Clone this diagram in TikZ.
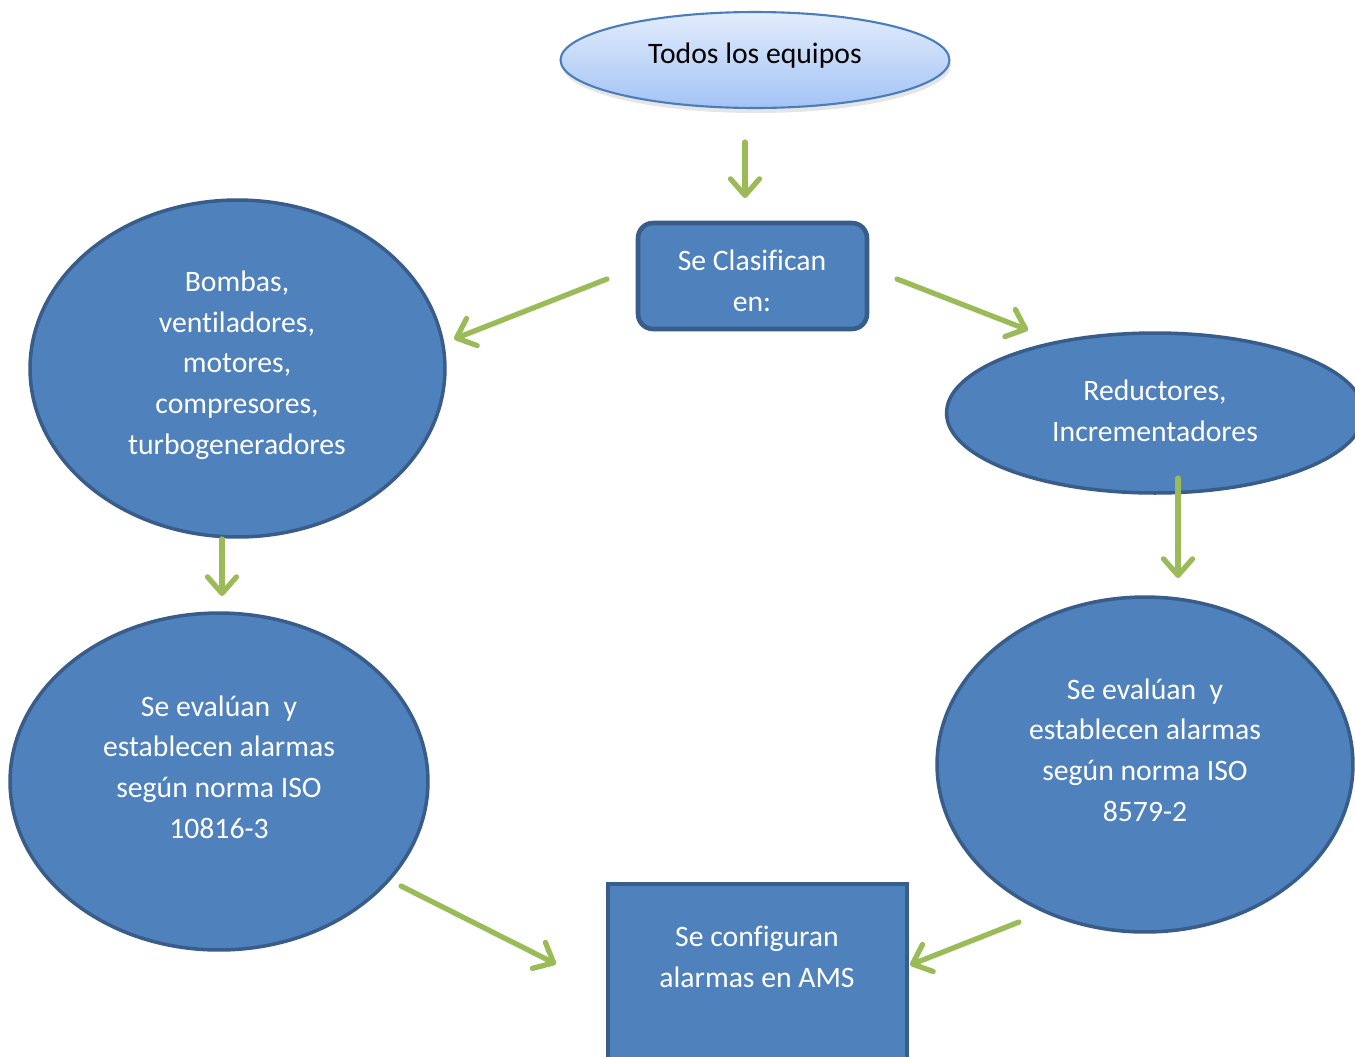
\documentclass[tikz,border=0pt]{standalone}
\usepackage{fontspec}
\setmainfont[Ligatures={NoCommon}]{Carlito}
\usetikzlibrary{shapes.geometric,arrows.meta,shadows}
\definecolor{fillblue}{HTML}{4F81BD}
\definecolor{edgeblue}{HTML}{385D8A}
\definecolor{arrowgreen}{HTML}{9BBB59}
\definecolor{topedge}{HTML}{4A7EBB}
\definecolor{toptop}{HTML}{E2ECFC}
\definecolor{topbot}{HTML}{A3C3F5}
\tikzset{
  blueell/.style={ellipse, fill=fillblue, draw=edgeblue, line width=2pt, inner sep=0pt},
  bluerect/.style={rectangle, fill=fillblue, draw=edgeblue, line width=2.2pt, inner sep=0pt},
  wtxt/.style={text=white, align=center, font=\fontsize{16.9}{23.2}\selectfont, inner sep=0pt},
  btxt/.style={text=black, align=center, font=\fontsize{16.9}{23.2}\selectfont, inner sep=0pt},
  garrow/.style={draw=arrowgreen, line width=3pt, line cap=round,
     -{Straight Barb[length=0.33cm, width=0.58cm, line cap=round, line join=round]}},
}
\begin{document}
\begin{tikzpicture}[x=0.02cm, y=-0.02cm]
\useasboundingbox (0,0) rectangle (1355,1056);
\fill[white] (0,0) rectangle (1355,1056);

% top ellipse
\node[ellipse, draw=topedge, line width=1.2pt, top color=toptop, bottom color=topbot,
  minimum width=7.78cm, minimum height=1.92cm, inner sep=0pt,
  drop shadow={opacity=0.2, shadow xshift=0.03cm, shadow yshift=-0.1cm}] (top) at (755,60) {};
\node[btxt] (toptxt) at (755,56) {Todos los equipos};

% classify box
\node[bluerect, rounded corners=0.3cm, line width=2.6pt, minimum width=4.58cm, minimum height=2.12cm] (clas) at (752.5,276) {};
\node[wtxt] (clastxt) at (752,281) {Se Clasifican\\en:};

% left ellipse
\node[blueell, minimum width=8.3cm, minimum height=6.74cm] (left) at (237.5,368.5) {};
\node[wtxt] (lefttxt) at (237,365) {Bombas,\\ventiladores,\\motores,\\compresores,\\turbogeneradores};

% right ellipse
\node[blueell, minimum width=8.34cm, minimum height=3.2cm] (right) at (1155,413) {};
\node[wtxt] (righttxt) at (1155,411) {Reductores,\\Incrementadores};

% bottom left ellipse
\node[blueell, minimum width=8.36cm, minimum height=6.74cm] (bl) at (219,781.5) {};
\node[wtxt] (bltxt) at (219,767) {Se evalúan\ \ y\\establecen alarmas\\según norma ISO\\10816-3};

% bottom right ellipse
\node[blueell, minimum width=8.32cm, minimum height=6.7cm] (br) at (1145,764.5) {};
\node[wtxt] (brtxt) at (1145,750) {Se evalúan\ \ y\\establecen alarmas\\según norma ISO\\8579-2};

% AMS box
\node[bluerect, minimum width=5.98cm, minimum height=4.1cm] (ams) at (757.5,986.5) {};
\node[wtxt] (amstxt) at (757,957) {Se configuran\\alarmas en AMS};

% arrow end points
\coordinate (a1s) at (745,142);
\coordinate (a1e) at (745,198);
\coordinate (a2s) at (607,279);
\coordinate (a2e) at (454,339);
\coordinate (a3s) at (897,279);
\coordinate (a3e) at (1028,330);
\coordinate (a4s) at (222,539);
\coordinate (a4e) at (222,596);
\coordinate (a5s) at (1178,478);
\coordinate (a5e) at (1178,578);
\coordinate (a6s) at (401,886);
\coordinate (a6e) at (556,964);
\coordinate (a7s) at (1019,922);
\coordinate (a7e) at (910,965);

\draw[garrow] (a1s) -- (a1e);
\draw[garrow] (a2s) -- (a2e);
\draw[garrow] (a3s) -- (a3e);
\draw[garrow] (a4s) -- (a4e);
\draw[garrow] (a5s) -- (a5e);
\draw[garrow] (a6s) -- (a6e);
\draw[garrow] (a7s) -- (a7e);
\end{tikzpicture}
\end{document}
